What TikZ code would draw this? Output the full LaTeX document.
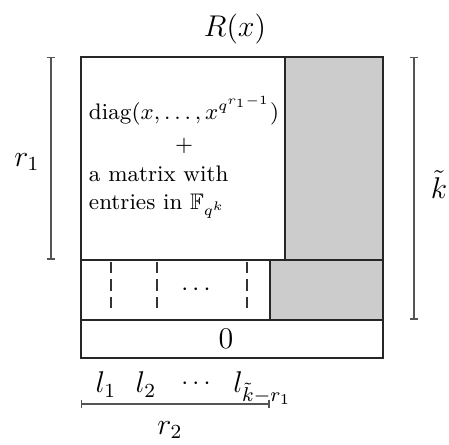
\documentclass[tikz,border=0pt]{standalone}
\usepackage{amsmath, amssymb}
\usetikzlibrary{arrows.meta}
\definecolor{blockgray}{RGB}{204,204,204}
\definecolor{spangray}{RGB}{85,85,85}

\begin{document}
\begin{tikzpicture}[
  x=0.4pt, y=-0.4pt,
  block/.style={draw=black!85, line width=0.6pt},
  shaded/.style={block, fill=blockgray},
  sep/.style={draw=black!80, line width=0.5pt, dash pattern=on 4.5pt off 2.5pt},
  span/.style={{Bar[width=3.4pt]}-{Bar[width=3.4pt]}, spangray, line width=0.6pt},
  lbl/.style={font=\large, inner sep=1pt},
]
  \useasboundingbox (0,0) rectangle (449,445);

  % Blocks of the matrix
  \draw[block]  (81,57)  rectangle (285,260);
  \draw[shaded] (285,57) rectangle (383,260);
  \draw[block]  (81,260) rectangle (270,320);
  \draw[shaded] (270,260) rectangle (383,320);
  \draw[block]  (81,320) rectangle (383,358);

  % Column separators
  \foreach \cx in {111,157,247}
    \draw[sep] (\cx,262) -- (\cx,311);

  \node[lbl] (title) at (235,29) {$R(x)$};
  \node[font=\small, inner sep=0pt, anchor=base west] (diag) at (88.5,120)
    {\begin{tabular}[t]{@{}l@{}}
       $\mathrm{diag}(x,\ldots,x^{q^{r_1-1}})$\\[1.5pt]
       \multicolumn{1}{@{}c@{}}{$+$}\\[1pt]
       a matrix with\\[0.5pt]
       entries in $\mathbb{F}_{q^k}$
     \end{tabular}};
  \node (mdots) at (198,290) {$\cdots$};
  \node[lbl] (zero) at (226,339) {$0$};

  % Column labels
  \node[lbl, anchor=base] (l1) at (106,393) {$l_1$};
  \node[lbl, anchor=base] (l2) at (146,393) {$l_2$};
  \node[anchor=base] (ldots) at (198,390) {$\cdots$};
  \node[lbl, anchor=base west, inner sep=0pt] (lk) at (233,393) {$l_{\tilde{k}-r_1}$};

  % Spans
  \coordinate (r1top) at (51,57);
  \coordinate (r1bot) at (51,260);
  \coordinate (ktop) at (414,57);
  \coordinate (kbot) at (414,320);
  \coordinate (r2left) at (81,404);
  \coordinate (r2right) at (270,404);
  \draw[span] (r1top) -- (r1bot);
  \draw[span] (ktop) -- (kbot);
  \draw[span] (r2left) -- (r2right);

  \node[lbl] (r1) at (27,162) {$r_1$};
  \node[lbl, inner sep=0pt] (ktil) at (439,185) {$\tilde{k}$};
  \node[lbl] (r2) at (170,430) {$r_2$};
\end{tikzpicture}
\end{document}
